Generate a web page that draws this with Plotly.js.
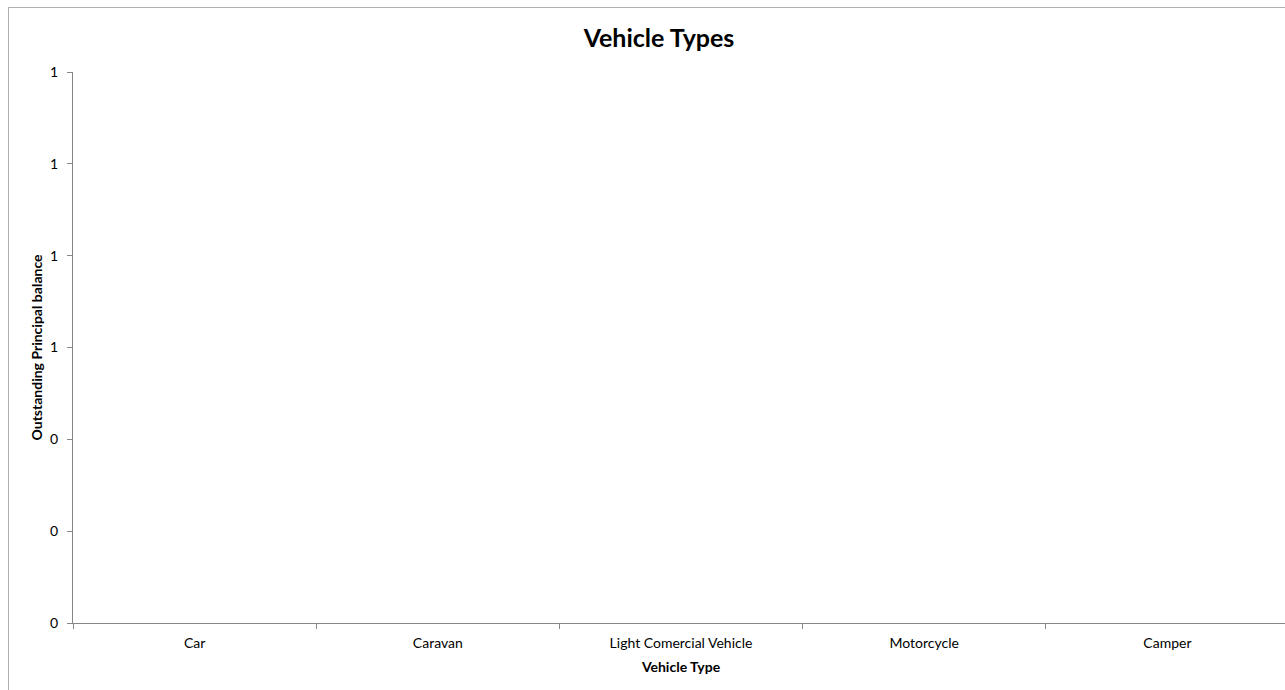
<!DOCTYPE html>
<html>
<head>
<meta charset="utf-8">
<script src="https://cdn.plot.ly/plotly-3.0.1.min.js"></script>
<style>
html,body{margin:0;padding:0;overflow:hidden;background:#fff;width:1285px;height:690px;}
#wrap{position:absolute;left:8px;top:7px;width:1300px;height:700px;border:1px solid #b0b0b0;}
#chart{width:1300px;height:700px;}
</style>
</head>
<body>
<div id="wrap"><div id="chart"></div></div>
<script>
const categories = ["Car", "Caravan", "Light Comercial Vehicle", "Motorcycle", "Camper"];
const balances = [0, 0, 0, 0, 0];
const yTickValues = [0, 0.2, 0.4, 0.6, 0.8, 1.0, 1.2];

const font = "Lato, 'Open Sans', sans-serif";
Plotly.newPlot("chart", [{
  type: "bar",
  x: categories,
  y: balances,
  marker: {color: "#4f81bd"},
  hoverinfo: "x+y"
}], {
  width: 1300, height: 700,
  paper_bgcolor: "#fff", plot_bgcolor: "#fff",
  margin: {l: 64, r: 20, t: 64, b: 85},
  showlegend: false,
  title: {text: "<b>Vehicle Types</b>", x: 0.5, xref: "container", xanchor: "center", y: 0.957, yanchor: "middle",
          font: {family: font, size: 25, color: "#000"}},
  xaxis: {
    type: "category",
    showline: true, linecolor: "#868686", linewidth: 1,
    ticks: "outside", ticklen: 5, tickcolor: "#868686", tickson: "boundaries",
    showgrid: false, zeroline: false,
    ticklabelstandoff: 7,
    tickfont: {family: font, size: 14, color: "#000"},
    title: {text: "<b>Vehicle Type</b>", standoff: 12, font: {family: font, size: 14, color: "#000"}}
  },
  yaxis: {
    range: [0, 1.2],
    tickvals: yTickValues,
    tickformat: ".0f",
    showline: true, linecolor: "#868686", linewidth: 1,
    ticks: "outside", ticklen: 5, tickcolor: "#868686",
    showgrid: false, zeroline: false,
    ticklabelstandoff: 6,
    tickfont: {family: font, size: 14, color: "#000"},
    title: {text: "<b>Outstanding Principal balance</b>", standoff: 4, font: {family: font, size: 14, color: "#000"}}
  }
}, {displayModeBar: false, staticPlot: true});
</script>
</body>
</html>
